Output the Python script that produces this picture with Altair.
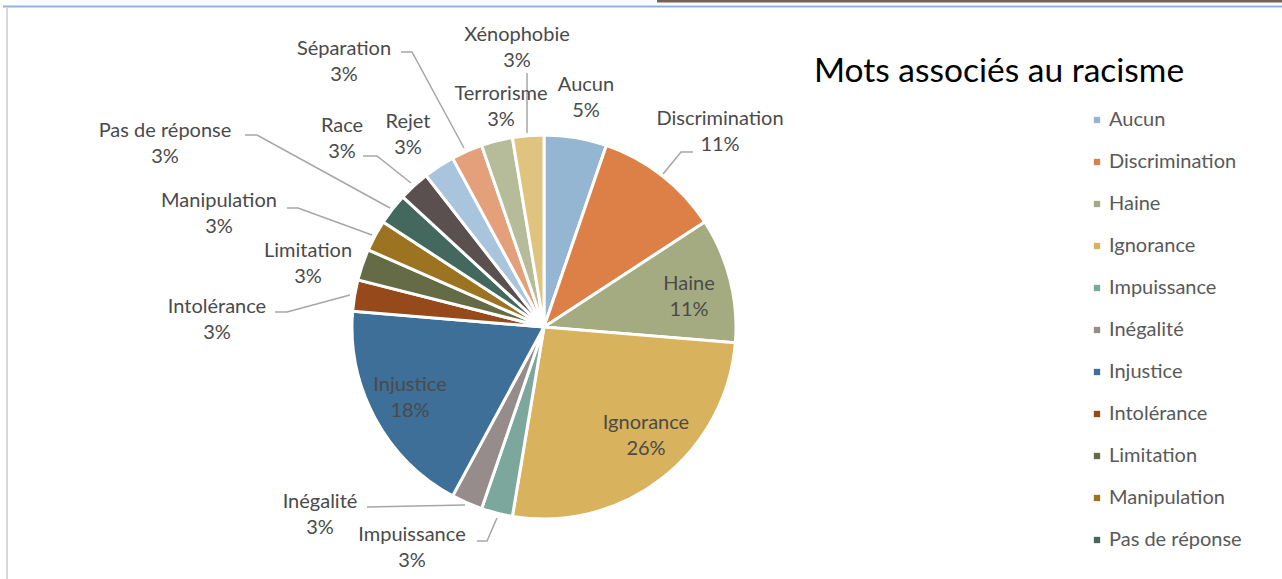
import altair as alt
import pandas as pd

categories = ["Aucun", "Discrimination", "Haine", "Ignorance", "Impuissance", "Inégalité",
              "Injustice", "Intolérance", "Limitation", "Manipulation", "Pas de réponse",
              "Race", "Rejet", "Séparation", "Terrorisme", "Xénophobie"]
counts = [2, 4, 4, 10, 1, 1, 7, 1, 1, 1, 1, 1, 1, 1, 1, 1]
colors = ["#94B6D2", "#DD8047", "#A5AB81", "#D8B25C", "#7BA79D", "#968C8C",
          "#3E6F98", "#96491B", "#646B45", "#9C7320", "#43685E",
          "#5A5050", "#A9C4DD", "#E4A07B", "#B6BC99", "#E0C37F"]
title_text = "Mots associés au racisme"

# layout (label first-line centres and leader lines), pixels
label_pos = {
    "Aucun": (586, 85), "Discrimination": (720, 119), "Haine": (689, 284),
    "Ignorance": (646, 423), "Impuissance": (412, 535), "Inégalité": (320, 502),
    "Injustice": (410, 385), "Intolérance": (217, 307), "Limitation": (308, 251),
    "Manipulation": (219, 201), "Pas de réponse": (165, 131), "Race": (342, 126),
    "Rejet": (408, 122), "Séparation": (344, 49), "Terrorisme": (501, 94),
    "Xénophobie": (517, 35),
}
leaders = {
    "Discrimination": [(693, 152), (681, 152), (663, 174)],
    "Xénophobie": [(527, 73), (527, 133)],
    "Séparation": [(401, 52), (412, 52), (464, 148)],
    "Race": [(363, 156), (377, 156), (411, 183)],
    "Pas de réponse": [(245, 135), (257, 135), (390, 208)],
    "Manipulation": [(287, 208), (298, 208), (372, 235)],
    "Intolérance": [(275, 312), (287, 312), (350, 295)],
    "Inégalité": [(367, 507), (465, 505)],
    "Impuissance": [(477, 541), (487, 541), (497, 518)],
}

total = sum(counts)
pie_df = pd.DataFrame({"category": categories, "count": counts, "idx": range(len(categories))})

lab_rows = []
for c, n in zip(categories, counts):
    x, y = label_pos[c]
    lab_rows.append({"category": c, "label": f"{c}\n{round(n / total * 100)}%", "lx": x, "ly": y})
lab_df = pd.DataFrame(lab_rows)

lead_rows = []
for c, pts in leaders.items():
    for i, (x, y) in enumerate(pts):
        lead_rows.append({"category": c, "seq": i, "px": x, "py": y})
lead_df = pd.DataFrame(lead_rows)

FONT = "Lato"
CX, CY, R = 544, 327, 192

pie = alt.Chart(pie_df).mark_arc(outerRadius=R, stroke="white", strokeWidth=3).encode(
    theta=alt.Theta("count:Q", stack=True),
    color=alt.Color("category:N", sort=categories,
                    scale=alt.Scale(domain=categories, range=colors),
                    legend=alt.Legend(values=categories[:11], orient="none", legendX=1087, legendY=110,
                                      title=None, labelFont=FONT, labelFontSize=20, labelColor="#595959",
                                      symbolType="square", symbolSize=40, symbolStrokeWidth=0,
                                      rowPadding=22, labelOffset=2, labelLimit=300)),
    order=alt.Order("idx:Q"),
    x=alt.value(CX), y=alt.value(CY),
)

lines = alt.Chart(lead_df).mark_line(color="#a6a6a6", strokeWidth=1.5).encode(
    x=alt.X("px:Q", scale=None, axis=None),
    y=alt.Y("py:Q", scale=None, axis=None),
    detail="category:N",
    order="seq:Q",
)

labels = alt.Chart(lab_df).mark_text(font=FONT, fontSize=20, color="#4a4a4a", lineBreak="\n",
                                     lineHeight=26, align="center", baseline="middle").encode(
    x=alt.X("lx:Q", scale=None, axis=None),
    y=alt.Y("ly:Q", scale=None, axis=None),
    text="label:N",
)

title = alt.Chart(pd.DataFrame({"t": [title_text]})).mark_text(
    font=FONT, fontSize=33.5, color="#000000", align="left", baseline="middle").encode(
    x=alt.value(814), y=alt.value(72), text="t:N")

frame_top = alt.Chart(pd.DataFrame({"a": [0]})).mark_rule(color="#8EB4E3", strokeWidth=2).encode(
    x=alt.value(3), x2=alt.value(1282), y=alt.value(6.5))
frame_left = alt.Chart(pd.DataFrame({"a": [0]})).mark_rule(color="#D9D9D9", strokeWidth=2).encode(
    x=alt.value(7), y=alt.value(8), y2=alt.value(579))
top_bar = alt.Chart(pd.DataFrame({"a": [0]})).mark_rule(color="#7B5F56", strokeWidth=3).encode(
    x=alt.value(657), x2=alt.value(1282), y=alt.value(1))

chart = alt.layer(frame_top, frame_left, top_bar, pie, lines, labels, title).properties(
    width=1282, height=579, autosize=alt.AutoSizeParams(type="none"), padding=0,
    background="white",
).configure_view(stroke=None)

chart.save("out.html", embed_options={"renderer": "svg", "actions": False})
